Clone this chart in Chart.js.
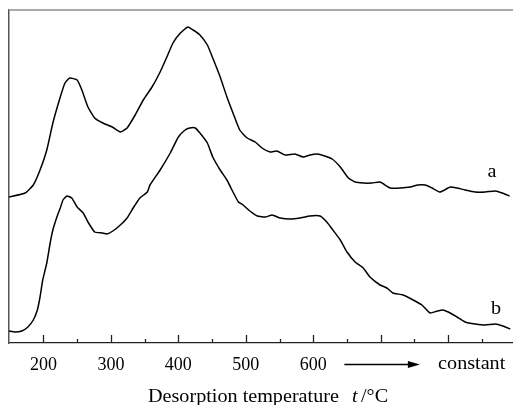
<!DOCTYPE html>
<html>
<head>
<meta charset="utf-8">
<script src="https://cdn.jsdelivr.net/npm/chart.js@4.4.1/dist/chart.umd.min.js"></script>
<style>
  html, body { margin: 0; padding: 0; background: #fff; }
  #wrap { width: 513px; height: 405px; position: relative; }
</style>
</head>
<body>
<div id="wrap"><canvas id="tpd"></canvas></div>
<script>
// TPD curves, intensity in arbitrary units
const tempA = [149, 173, 185, 195, 205, 214, 225, 232, 239, 250, 257, 266, 276, 288, 302, 314, 324, 336, 348, 361,
  373, 383, 392, 403, 414, 422, 432, 443, 451, 462, 472, 481, 491, 502, 514, 524, 536, 546, 558, 573,
  585, 595, 606, 617, 628, 640, 652, 662, 674, 687, 699, 714, 729, 744, 755, 766, 776, 788, 803, 813,
  825, 840, 855, 870, 880, 891];
const intensityA = [146, 150, 158, 173, 193, 220, 246, 260, 265, 263, 253, 236, 225, 220, 216, 211, 215, 228, 243, 256,
  271, 286, 300, 310, 316, 313, 308, 298, 285, 266, 246, 230, 213, 205, 201, 195, 191, 192, 188, 189,
  186, 188, 189, 187, 184, 176, 165, 161, 160, 160, 161, 155, 155, 156, 158, 158, 155, 151, 156, 155,
  153, 151, 151, 152, 150, 147];

const tempB = [149, 158, 168, 177, 185, 191, 195, 199, 205, 210, 214, 220, 225, 229, 235, 242, 250, 259, 266, 276,
  287, 294, 303, 314, 324, 333, 343, 354, 358, 373, 388, 400, 410, 417, 425, 432, 443, 451, 462, 472,
  481, 489, 496, 506, 517, 529, 539, 551, 566, 580, 595, 610, 620, 629, 640, 650, 662, 674, 684, 699,
  709, 718, 733, 748, 761, 773, 784, 792, 803, 813, 825, 840, 855, 870, 881, 892];
const intensityB = [12, 11, 12, 16, 23, 33, 46, 63, 80, 100, 113, 126, 135, 143, 147, 145, 136, 130, 121, 111,
  110, 109, 112, 118, 125, 135, 145, 151, 158, 173, 190, 206, 213, 215, 215, 210, 200, 186, 173, 163,
  151, 141, 138, 132, 127, 126, 128, 125, 124, 125, 127, 127, 121, 113, 103, 91, 81, 75, 66, 58,
  55, 50, 48, 43, 38, 30, 32, 33, 30, 26, 21, 19, 18, 19, 17, 14];

const tickValues = [200, 250, 300, 350, 400, 450, 500, 550, 600, 650, 700, 750, 800, 850];
const tickLabels = ['200', '', '300', '', '400', '', '500', '', '600', '', '', '', '', ''];

const serif = '"Liberation Serif", "Times New Roman", serif';

function pts(xs, ys) {
  return xs.map(function (x, i) { return { x: x, y: ys[i] }; });
}

// the original lettering is a bit wide, so stretch it horizontally
function wideText(ctx, txt, x, y, font) {
  ctx.save();
  ctx.font = font;
  ctx.translate(x, y);
  ctx.scale(1.12, 1);
  ctx.fillText(txt, 0, 0);
  ctx.restore();
}

// inward ticks, frame, arrow, curve letters and axis title
const decor = {
  id: 'decor',
  afterDraw(chart) {
    const ctx = chart.ctx;
    const a = chart.chartArea;
    const xs = chart.scales.x;
    const ys = chart.scales.y;
    ctx.save();

    // top border
    ctx.strokeStyle = '#aaaaaa';
    ctx.lineWidth = 2;
    ctx.beginPath();
    ctx.moveTo(a.left, a.top);
    ctx.lineTo(a.right, a.top);
    ctx.stroke();

    // ticks pointing up into the plot
    ctx.strokeStyle = '#222';
    ctx.lineWidth = 1.3;
    tickValues.forEach(function (v) {
      const px = Math.round(xs.getPixelForValue(v)) + 0.5;
      const len = v % 100 === 0 ? 8 : 4;
      ctx.beginPath();
      ctx.moveTo(px, a.bottom);
      ctx.lineTo(px, a.bottom - len);
      ctx.stroke();
    });

    // arrow towards "constant"
    const ay = 364.5;
    const ax0 = xs.getPixelForValue(646);
    const ax1 = xs.getPixelForValue(758);
    ctx.strokeStyle = '#000';
    ctx.lineWidth = 1.3;
    ctx.beginPath();
    ctx.moveTo(ax0, ay);
    ctx.lineTo(ax1 - 10, ay);
    ctx.stroke();
    ctx.fillStyle = '#000';
    ctx.beginPath();
    ctx.moveTo(ax1, ay);
    ctx.lineTo(ax1 - 12, ay - 3.5);
    ctx.lineTo(ax1 - 12, ay + 3.5);
    ctx.closePath();
    ctx.fill();

    ctx.fillStyle = '#000';
    ctx.textBaseline = 'alphabetic';
    ctx.textAlign = 'left';
    wideText(ctx, 'constant', xs.getPixelForValue(785), 369, '18px ' + serif);

    // curve letters
    ctx.textAlign = 'center';
    wideText(ctx, 'a', xs.getPixelForValue(865), ys.getPixelForValue(166), '18px ' + serif);
    wideText(ctx, 'b', xs.getPixelForValue(871), ys.getPixelForValue(29), '18px ' + serif);

    // axis title with italic t
    ctx.textAlign = 'left';
    wideText(ctx, 'Desorption temperature', 148, 402, '18px ' + serif);
    wideText(ctx, 't', 352, 402, 'italic 18px ' + serif);
    wideText(ctx, '/°C', 361, 402, '18px ' + serif);

    ctx.restore();
  }
};

new Chart(document.getElementById('tpd'), {
  type: 'line',
  data: {
    datasets: [
      { label: 'a', data: pts(tempA, intensityA) },
      { label: 'b', data: pts(tempB, intensityB) }
    ]
  },
  options: {
    responsive: true,
    maintainAspectRatio: false,
    animation: false,
    layout: { padding: { top: 10, right: 0, left: 0, bottom: 0 } },
    elements: {
      line: { borderColor: '#000', borderWidth: 1.5, tension: 0.15, fill: false },
      point: { radius: 0 }
    },
    plugins: {
      legend: { display: false },
      tooltip: { enabled: false }
    },
    scales: {
      x: {
        type: 'linear',
        min: 149,
        max: 896,
        afterBuildTicks: function (s) { s.ticks = tickValues.map(function (v) { return { value: v }; }); },
        afterFit: function (s) { s.height = 62; },
        grid: { display: false, drawTicks: false },
        border: { display: true, color: '#222', width: 1.3 },
        ticks: {
          autoSkip: false,
          maxRotation: 0,
          padding: 11,
          color: '#000',
          font: { family: serif, size: 18 },
          callback: function (v, i) { return tickLabels[i]; }
        }
      },
      y: {
        min: 0,
        max: 333,
        afterFit: function (s) { s.width = 9; },
        grid: { display: false, drawTicks: false },
        border: { display: true, color: '#555', width: 1.5 },
        ticks: { display: false }
      }
    }
  },
  plugins: [decor]
});
</script>
</body>
</html>
